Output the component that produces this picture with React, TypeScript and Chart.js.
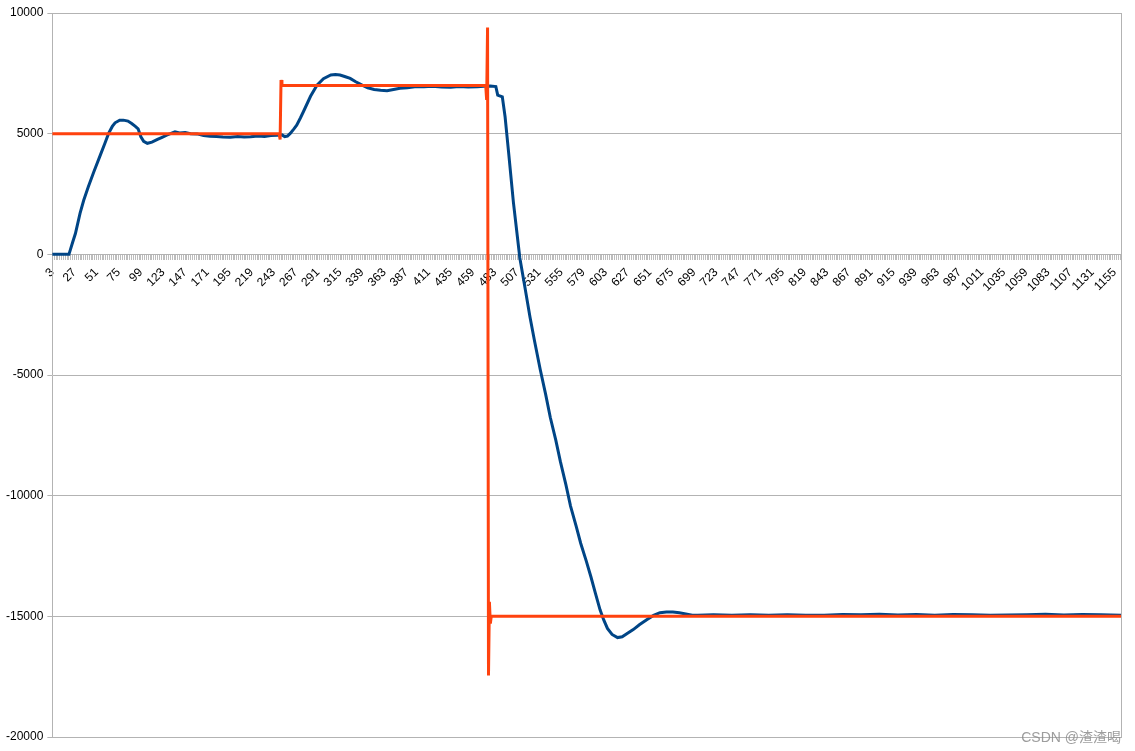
import React, { useEffect, useRef } from "react";
import { Chart, registerables } from "chart.js";

Chart.register(...registerables);

// Category labels (sample numbers shown on the x axis)
const firstSample = 3;
const lastSample = 1162;
const xLabels: number[] = Array.from({ length: lastSample - firstSample + 1 }, (_, i) => firstSample + i);

// Measured response (blue)
const blueIdx = [
  3, 12, 21, 25, 28, 33, 37, 42, 48, 55, 60, 64, 68, 71, 76, 80, 85, 89, 93, 96, 99, 102, 106, 111, 117, 122, 127, 131,
  136, 141, 147, 153, 160, 167, 174, 181, 188, 196, 204, 211, 218, 226, 233, 240, 247, 252, 255, 258, 261, 265, 268,
  272, 276, 283, 290, 297, 305, 310, 315, 320, 326, 332, 339, 345, 352, 359, 366, 373, 380, 388, 396, 406, 415, 425,
  435, 444, 454, 464, 471, 478, 484, 486, 491, 494, 498, 503, 510, 515, 521, 526, 532, 538, 543, 549, 554, 560, 565,
  571, 576, 582, 587, 592, 597, 601, 605, 610, 616, 621, 626, 633, 640, 648, 655, 662, 669, 676, 683, 690, 697, 703,
  720, 740, 760, 780, 800, 820, 840, 860, 880, 900, 920, 940, 960, 980, 1000, 1020, 1040, 1060, 1080, 1100, 1120, 1140,
  1162,
];
const blueVal = [
  0, 0, 0, 500, 860, 1700, 2240, 2800, 3420, 4110, 4600, 5010, 5300, 5450, 5560, 5560, 5520, 5420, 5300, 5200, 4870,
  4680, 4600, 4650, 4760, 4850, 4940, 5000, 5080, 5030, 5050, 5000, 4990, 4920, 4890, 4880, 4860, 4850, 4880, 4860,
  4870, 4900, 4880, 4920, 4930, 4950, 4880, 4900, 5010, 5200, 5350, 5650, 5970, 6550, 7010, 7280, 7430, 7450, 7430,
  7370, 7290, 7150, 7010, 6900, 6830, 6800, 6780, 6830, 6880, 6900, 6940, 6940, 6960, 6930, 6920, 6950, 6930, 6940,
  6960, 6970, 6950, 6600, 6530, 5700, 4150, 2160, -150, -1250, -2600, -3600, -4750, -5800, -6750, -7700, -8590, -9550,
  -10430, -11250, -11970, -12700, -13350, -14050, -14730, -15150, -15500, -15750, -15880, -15850, -15720, -15550,
  -15340, -15130, -14960, -14850, -14820, -14820, -14850, -14900, -14950, -14950, -14930, -14960, -14930, -14950,
  -14930, -14960, -14950, -14920, -14930, -14910, -14940, -14920, -14950, -14920, -14930, -14950, -14940, -14930,
  -14910, -14940, -14920, -14930, -14950,
];

// Setpoint (orange)
const orangeIdx = [3, 249, 250, 251, 252, 473, 474, 475, 476, 477, 478, 479, 1162];
const orangeVal = [5000, 5000, 4760, 7220, 7000, 7000, 6400, 9400, -17450, -14400, -15300, -15000, -15000];

// Y axis ticks
const yMin = -20000;
const yMax = 10000;
const yStep = 5000;
const labelEvery = 24;

const watermark = "CSDN @渣渣喝";

export default function App() {
  const ref = useRef<HTMLCanvasElement | null>(null);

  useEffect(() => {
    if (!ref.current) return;
    const font = { family: "'Liberation Sans', Arial, sans-serif", size: 12 };
    const chart = new Chart(ref.current, {
      type: "line",
      data: {
        labels: xLabels,
        datasets: [
          {
            label: "setpoint",
            data: orangeIdx.map((x, i) => ({ x, y: orangeVal[i] })),
            borderColor: "#ff420e",
            borderWidth: 3,
            pointRadius: 0,
            tension: 0,
            fill: false,
            order: 0,
          },
          {
            label: "measured",
            data: blueIdx.map((x, i) => ({ x, y: blueVal[i] })),
            borderColor: "#004586",
            borderWidth: 3,
            pointRadius: 0,
            tension: 0,
            fill: false,
            order: 1,
          },
        ],
      },
      options: {
        animation: false,
        responsive: false,
        events: [],
        layout: { padding: { top: 13, right: 6, bottom: 14, left: 2 } },
        plugins: { legend: { display: false }, tooltip: { enabled: false } },
        scales: {
          x: {
            type: "category",
            position: { y: 0 },
            offset: false,
            afterFit: (s: any) => {
              s.paddingRight = 0;
            },
            grid: {
              display: true,
              drawOnChartArea: false,
              drawTicks: true,
              tickLength: 5,
              color: (c: any) => (c.index % 2 === 0 ? "#bdbdbd" : "rgba(0,0,0,0)"),
            },
            border: { display: true, color: "#b3b3b3", width: 1 },
            ticks: {
              autoSkip: false,
              minRotation: 45,
              maxRotation: 45,
              padding: 6,
              color: "#000",
              font,
              callback: (_v: any, index: number) => {
                const lab = xLabels[index];
                return (lab - firstSample) % labelEvery === 0 ? String(lab) : "";
              },
            },
          },
          y: {
            min: yMin,
            max: yMax,
            position: "left",
            grid: { color: "#b3b3b3", tickLength: 5 },
            border: { display: true, color: "#b3b3b3", width: 1 },
            ticks: { stepSize: yStep, padding: 4, color: "#000", font, callback: (v: any) => String(v) },
          },
          y2: {
            min: yMin,
            max: yMax,
            position: "right",
            grid: { display: false },
            border: { display: true, color: "#b3b3b3", width: 1 },
            ticks: { display: false },
          },
        },
      },
    });
    return () => chart.destroy();
  }, []);

  return (
    <div style={{ position: "fixed", left: 0, top: 0, width: 1135, height: 751, background: "#fff" }}>
      <canvas ref={ref} width={1135} height={751} style={{ display: "block", width: 1135, height: 751 }} />
      <div
        style={{
          position: "absolute",
          right: 14,
          top: 726,
          fontFamily: "'Liberation Sans', 'Noto Sans CJK SC', sans-serif",
          fontSize: 14,
          color: "rgba(140,140,140,0.85)",
          whiteSpace: "nowrap",
        }}
      >
        {watermark}
      </div>
    </div>
  );
}
